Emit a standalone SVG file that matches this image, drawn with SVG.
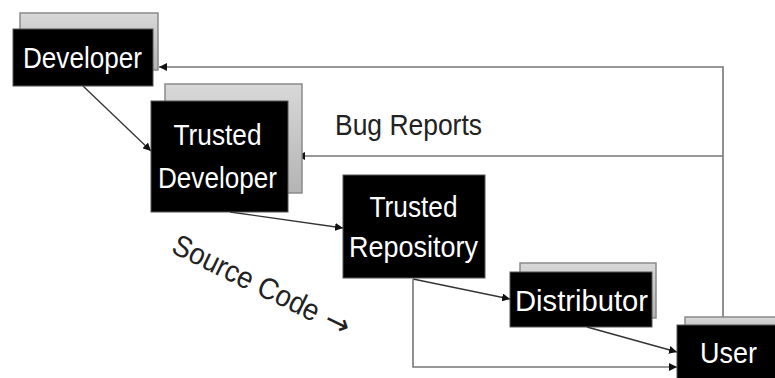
<svg xmlns="http://www.w3.org/2000/svg" width="775" height="378" viewBox="0 0 775 378">
<style>
.shadow{fill:url(#g);stroke:#8a8a8a;stroke-width:1.5}
.box{fill:#000;stroke:#555;stroke-width:1}
.lbl{font-family:"Liberation Sans",Arial,sans-serif;font-size:30px;fill:#fff;text-anchor:middle}
.dark{font-family:"Liberation Sans",Arial,sans-serif;font-size:30px;fill:#222}
.c{fill:none;stroke:#333;stroke-width:1.3}
.g{fill:none;stroke:#777;stroke-width:1.6}
</style>
<defs>
<linearGradient id="g" x1="0" y1="0" x2="0" y2="1">
<stop offset="0" stop-color="#d8d8d8"/>
<stop offset="1" stop-color="#b4b4b4"/>
</linearGradient>
<marker id="a" markerUnits="userSpaceOnUse" markerWidth="9" markerHeight="8" refX="8" refY="4" orient="auto">
<path d="M0,0 L8,4 L0,8 z" fill="#111"/>
</marker>
</defs>

<g id="connectors">
<path class="g" d="M723,317 L723,67 L159,67" marker-end="url(#a)"/>
<path class="g" d="M723,156 L297,156" marker-end="url(#a)"/>
<path class="c" d="M83,86 L151,151" marker-end="url(#a)"/>
<path class="c" d="M230,212 L343,228" marker-end="url(#a)"/>
<path class="c" d="M413,279 L510,299" marker-end="url(#a)"/>
<path class="g" d="M413,279 L413,367 L677,367" marker-end="url(#a)"/>
<path class="c" d="M587,327 L677,352" marker-end="url(#a)"/>
</g>

<g id="developer">
<rect class="shadow" x="20" y="13" width="138" height="57"/>
<rect class="box" x="13" y="29" width="140" height="57"/>
<text class="lbl" x="82.5" y="68" textLength="119" lengthAdjust="spacingAndGlyphs">Developer</text>
</g>

<g id="trusted-developer">
<rect class="shadow" x="165" y="84" width="137" height="109"/>
<rect class="box" x="151" y="101" width="137" height="111"/>
<text class="lbl" x="217.5" y="145" textLength="88" lengthAdjust="spacingAndGlyphs">Trusted</text>
<text class="lbl" x="217.5" y="188" textLength="119" lengthAdjust="spacingAndGlyphs">Developer</text>
</g>

<g id="trusted-repository">
<rect class="box" x="343" y="175" width="142" height="103" stroke="#999"/>
<text class="lbl" x="413.5" y="217" textLength="88" lengthAdjust="spacingAndGlyphs">Trusted</text>
<text class="lbl" x="413.5" y="257" textLength="129" lengthAdjust="spacingAndGlyphs">Repository</text>
</g>

<g id="distributor">
<rect class="shadow" x="520" y="263" width="136" height="55"/>
<rect class="box" x="510" y="272" width="142" height="55"/>
<text class="lbl" x="581.5" y="311" textLength="133" lengthAdjust="spacingAndGlyphs">Distributor</text>
</g>

<g id="user">
<rect class="shadow" x="685" y="317" width="100" height="20"/>
<rect class="box" x="677" y="325" width="110" height="60"/>
<text class="lbl" x="728.5" y="363" textLength="57" lengthAdjust="spacingAndGlyphs">User</text>
</g>

<g id="labels">
<text class="dark" x="335" y="135" textLength="147" lengthAdjust="spacingAndGlyphs">Bug Reports</text>
<g transform="translate(170,252) rotate(26)">
<text class="dark" x="0" y="0" font-size="27" textLength="160" lengthAdjust="spacingAndGlyphs">Source Code</text>
<text x="169" y="0" font-family="DejaVu Sans, sans-serif" font-size="30" fill="#222">→</text>
</g>
</g>
</svg>
